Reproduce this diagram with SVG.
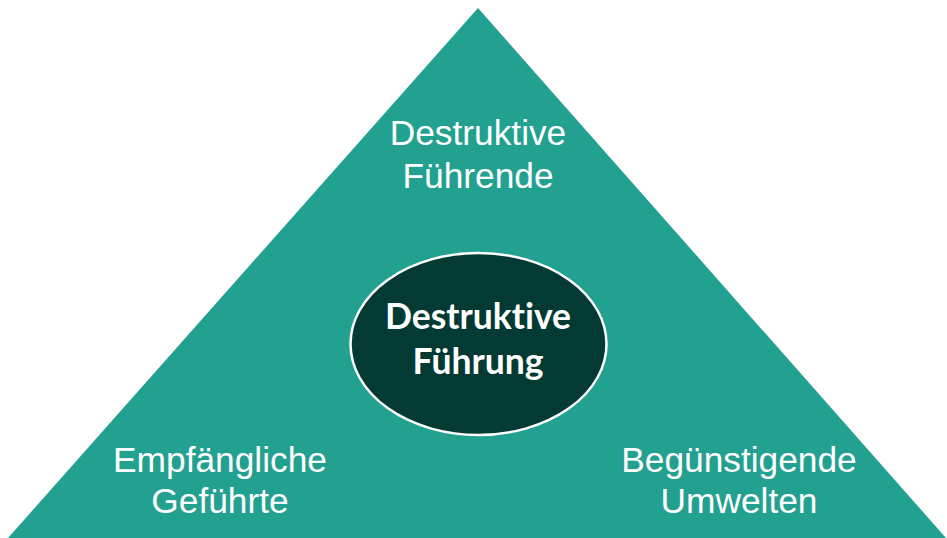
<svg xmlns="http://www.w3.org/2000/svg" width="947" height="538" viewBox="0 0 947 538">
<style>
.lbl{font-family:"Liberation Sans",Arial,sans-serif;font-size:35.3px;fill:#ffffff;text-anchor:middle}
.core{font-family:Lato,"Open Sans",sans-serif;font-weight:bold;font-size:35.5px;fill:#ffffff;text-anchor:middle;font-variant-ligatures:none}
</style>
<rect width="947" height="538" fill="#ffffff"/>
<g id="triangle">
<polygon points="478,8 8,538 946,538" fill="#22a090"/>
</g>
<g id="top-label">
<text class="lbl" x="478" y="145">Destruktive</text>
<text class="lbl" x="478" y="188">Führende</text>
</g>
<g id="left-label">
<text class="lbl" x="220" y="472">Empfängliche</text>
<text class="lbl" x="220" y="513">Geführte</text>
</g>
<g id="right-label">
<text class="lbl" x="739" y="472">Begünstigende</text>
<text class="lbl" x="739" y="513">Umwelten</text>
</g>
<g id="center">
<ellipse cx="478.5" cy="344" rx="128" ry="91" fill="#033a33" stroke="#ffffff" stroke-width="2.5"/>
<text class="core" x="478" y="329">Destruktive</text>
<text class="core" x="478" y="374">Führung</text>
</g>
<g id="connectors"></g>
</svg>
